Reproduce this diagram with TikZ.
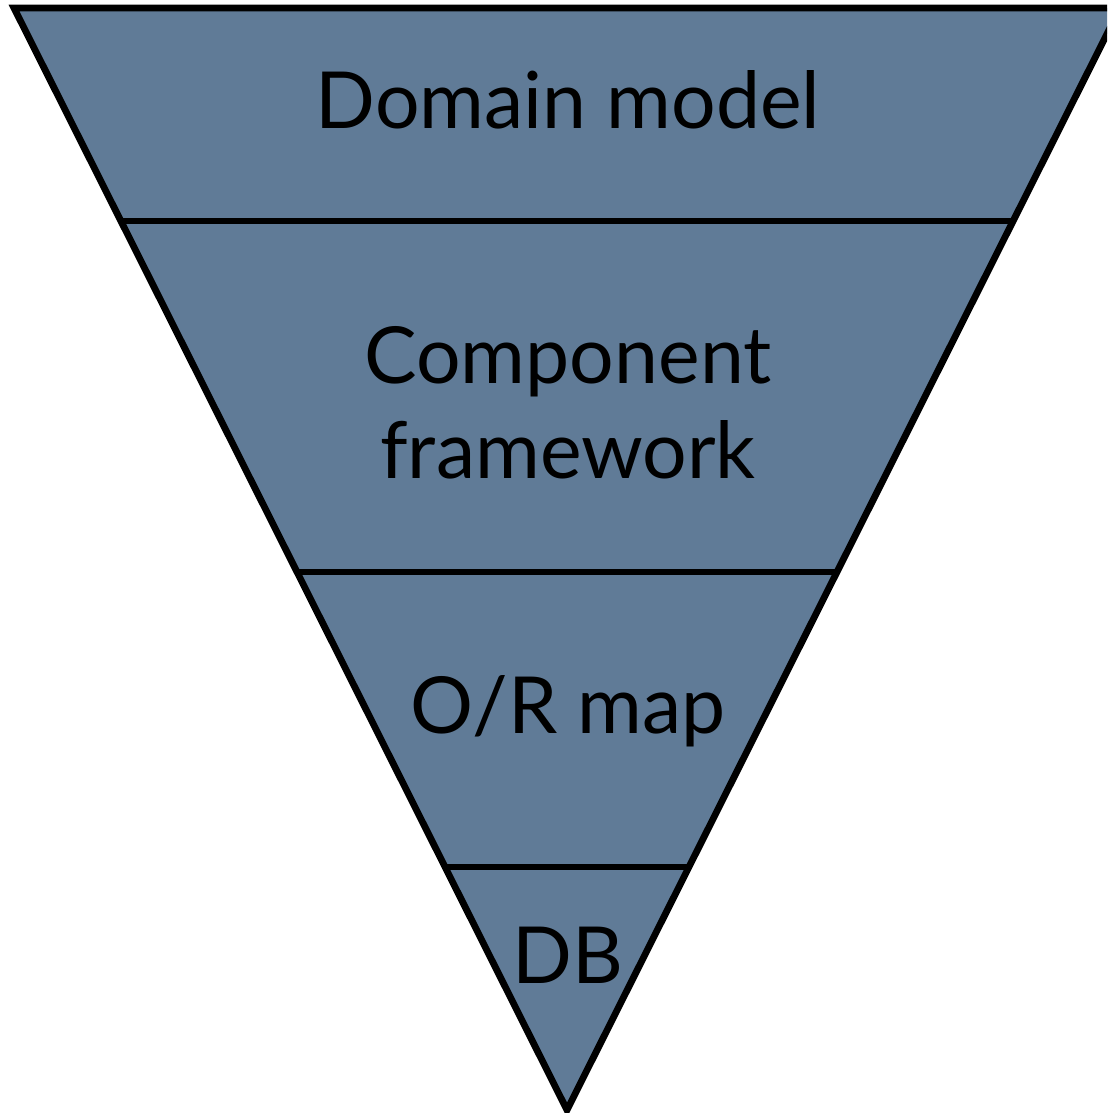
\documentclass[tikz,border=0pt]{standalone}
\usepackage{fontspec}
\setmainfont{Lato}
\usetikzlibrary{calc}
\definecolor{slate}{RGB}{96,123,151}
\tikzset{
  layer/.style={fill=slate, draw=black, line width=4.8pt},
  sep/.style={draw=black, line width=4.8pt},
  label/.style={font=\fontsize{56}{67}\selectfont, align=center, inner sep=0pt}
}
\begin{document}
\begin{tikzpicture}[x=0.025cm,y=-0.025cm]
  \useasboundingbox (0,0) rectangle (1107,1113);
  \clip (0,0) rectangle (1107,1113);
  \coordinate (TL) at (14,8);
  \coordinate (TR) at (1120,8);
  \coordinate (A) at (567,1110);
  \filldraw[layer] (TL) -- (TR) -- (A) -- cycle;
  % layer borders
  \draw[sep] ($(TL)!0.1933!(A)$) -- ($(TR)!0.1933!(A)$);
  \draw[sep] ($(TL)!0.5118!(A)$) -- ($(TR)!0.5118!(A)$);
  \draw[sep] ($(TL)!0.7795!(A)$) -- ($(TR)!0.7795!(A)$);
  \node[label, anchor=base] (domain) at (568,128) {Domain model};
  \node[label, anchor=base] (comp) at (568,383) {Component};
  \node[label, anchor=base] (frame) at (568,478) {framework};
  \node[label, anchor=base] (ormap) at (568,733) {O/R map};
  \node[label, anchor=base] (db) at (568,983) {DB};
\end{tikzpicture}
\end{document}
